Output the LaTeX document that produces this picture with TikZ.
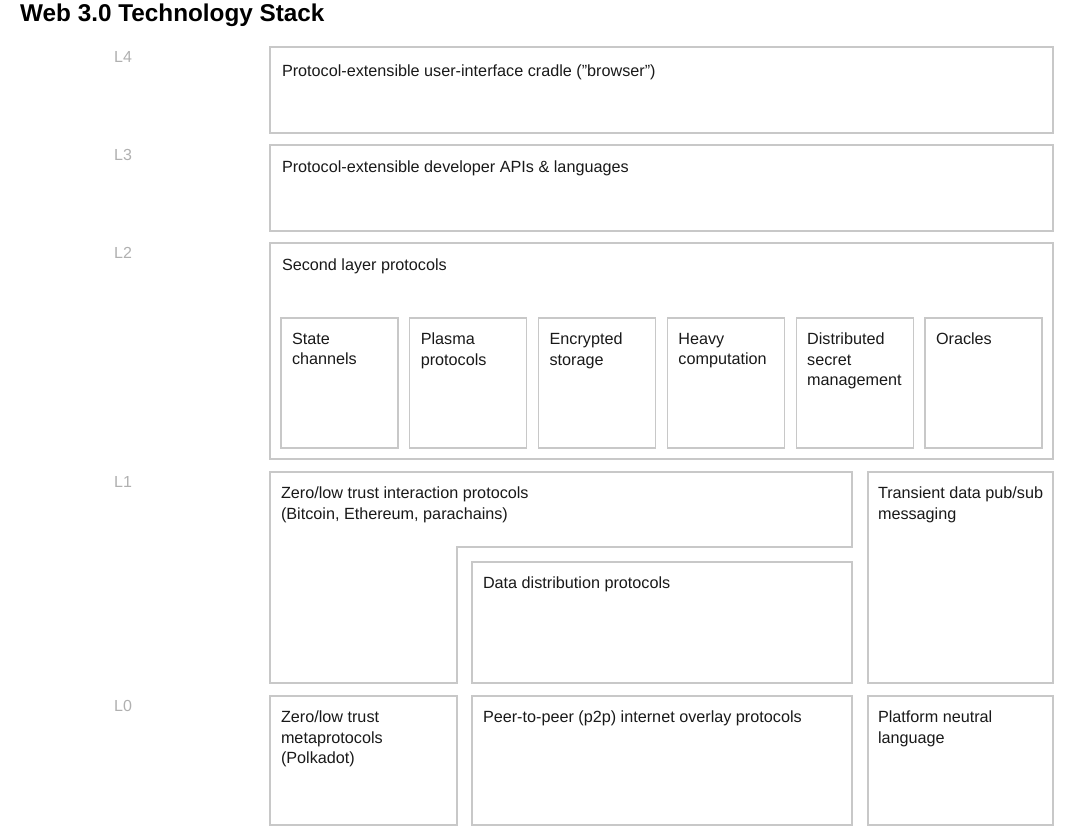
\documentclass[tikz,border=0pt]{standalone}
\usepackage{fontspec}
\setmainfont{Liberation Sans}
\usetikzlibrary{positioning}
\definecolor{ramme}{HTML}{C8C8C8}
\definecolor{lagfarge}{HTML}{B0B0B0}

\begin{document}
\begin{tikzpicture}[
    x=1pt, y=-1pt,
    %framed,
    boks/.style={rectangle, draw=ramme, line width=1.2pt, inner sep=0pt, outer sep=0pt, anchor=north west},
    tekst/.style={inner sep=0pt, outer sep=0pt, align=left, text=black!90, font=\fontsize{16.2}{20.5}\selectfont},
    lag/.style={inner sep=0pt, anchor=north west, text=lagfarge, font=\fontsize{16}{20}\selectfont},
    tittel/.style={inner sep=0pt, anchor=base west, font=\bfseries\fontsize{24.3}{28}\selectfont}
    ]
    \useasboundingbox (0,0) rectangle (1080,829);

\node[tittel] (overskrift) at (20,21.5) {Web 3.0 Technology Stack};

% lag-etiketter
\foreach \n/\y in {4/47, 3/145, 2/243, 1/472, 0/696}
    \node[lag] (lag\n) at (114,\y+4) {L\n};

% L4 og L3
\node[boks, minimum width=783pt, minimum height=86pt] (l4) at (270,47) {};
\node[tekst, below right=18pt and 12pt of l4.north west] (l4tekst) {Protocol-extensible user-interface cradle (”browser”)};
\node[boks, minimum width=783pt, minimum height=86pt] (l3) at (270,145) {};
\node[tekst, below right=16pt and 12pt of l3.north west] (l3tekst) {Protocol-extensible developer APIs \& languages};

% L2
\node[boks, minimum width=783pt, minimum height=216pt] (l2) at (270,243) {};
\node[tekst, below right=16pt and 12pt of l2.north west] (l2tekst) {Second layer protocols};
\foreach \i/\navn/\txt in {0/state/{State\\channels}, 1/plasma/{Plasma\\protocols}, 2/storage/{Encrypted\\storage}, 3/heavy/{Heavy\\computation}, 4/secret/{Distributed\\secret\\management}, 5/oracles/{Oracles}}{
    \node[boks, minimum width=117pt, minimum height=130pt] (\navn) at (281+128.8*\i,318) {};
    \node[tekst, below right=15pt and 11pt of \navn.north west] (\navn-tekst) {\txt};
}

% L1
\draw[draw=ramme, line width=1.2pt] (270,472) coordinate (l1) -- (852,472) -- (852,547) -- (457,547) -- (457,683) -- (270,683) -- cycle;
\node[tekst, below right=15pt and 11pt of l1] (l1tekst) {Zero/low trust interaction protocols\\(Bitcoin, Ethereum, parachains)};
\node[boks, minimum width=380pt, minimum height=121pt] (data) at (472,562) {};
\node[tekst, below right=15pt and 11pt of data.north west] (datatekst) {Data distribution protocols};
\node[boks, minimum width=185pt, minimum height=211pt] (pubsub) at (868,472) {};
\node[tekst, below right=15pt and 10pt of pubsub.north west] (pubsubtekst) {Transient data pub/sub\\messaging};

% L0
\node[boks, minimum width=187pt, minimum height=129pt] (meta) at (270,696) {};
\node[tekst, below right=15pt and 11pt of meta.north west] (metatekst) {Zero/low trust\\metaprotocols\\(Polkadot)};
\node[boks, minimum width=380pt, minimum height=129pt] (p2p) at (472,696) {};
\node[tekst, below right=15pt and 11pt of p2p.north west] (p2ptekst) {Peer-to-peer (p2p) internet overlay protocols};
\node[boks, minimum width=185pt, minimum height=129pt] (spraak) at (868,696) {};
\node[tekst, below right=15pt and 10pt of spraak.north west] (spraaktekst) {Platform neutral\\language};
\end{tikzpicture}
\end{document}
